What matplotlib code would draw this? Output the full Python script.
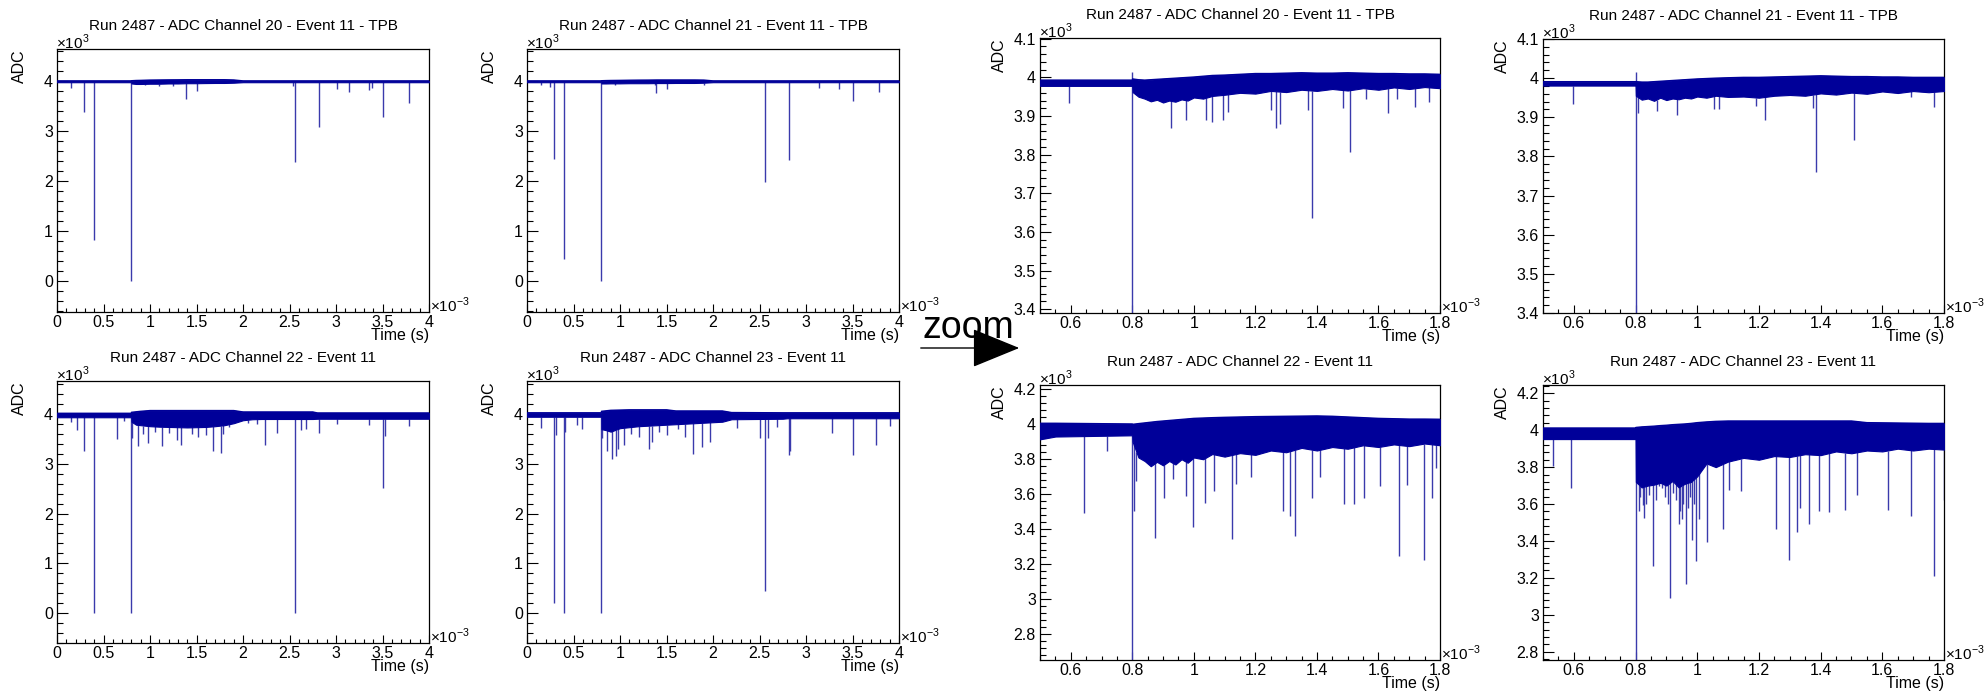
import numpy as np
import matplotlib
matplotlib.use("Agg")
import matplotlib.pyplot as plt
from matplotlib.patches import FancyArrowPatch
from matplotlib.ticker import MultipleLocator, FuncFormatter

plt.rcParams["font.family"] = ["Liberation Sans", "DejaVu Sans"]
plt.rcParams["mathtext.fontset"] = "custom"
plt.rcParams["mathtext.rm"] = "Liberation Sans"

W, H = 1984, 695
LINE = "#000099"
SPIKE = "#3a3aac"

# ---------------------------------------------------------------
# data (time in ms, ADC in counts)
# ---------------------------------------------------------------
TITLES = {
    20: "Run 2487 - ADC Channel 20 - Event 11 - TPB",
    21: "Run 2487 - ADC Channel 21 - Event 11 - TPB",
    22: "Run 2487 - ADC Channel 22 - Event 11",
    23: "Run 2487 - ADC Channel 23 - Event 11",
}

# full window 0-4 ms : envelope of the noise band on a common time grid
FULL_T = [0.0, 0.8, 0.801, 0.85, 0.9, 1.0, 1.1, 1.2, 1.3, 1.4, 1.5, 1.6, 1.7,
          1.8, 1.9, 2.0, 2.1, 2.2, 2.75, 2.8, 4.0]

ch20_full_hi = [4012, 4012, 4015, 4020, 4022, 4028, 4030, 4032, 4033, 4035, 4035,
                4035, 4035, 4035, 4030, 4012, 4012, 4012, 4012, 4012, 4012]
ch20_full_lo = [3985, 3985, 3960, 3950, 3950, 3955, 3955, 3960, 3960, 3965, 3965,
                3968, 3970, 3970, 3975, 3985, 3985, 3985, 3985, 3985, 3985]
ch21_full_hi = [4012, 4012, 4015, 4018, 4020, 4022, 4025, 4027, 4028, 4030, 4030,
                4030, 4030, 4030, 4028, 4012, 4012, 4012, 4012, 4012, 4012]
ch21_full_lo = [3985, 3985, 3960, 3960, 3962, 3962, 3965, 3965, 3965, 3968, 3968,
                3970, 3970, 3970, 3975, 3985, 3985, 3985, 3985, 3985, 3985]
ch22_full_hi = [4020, 4020, 4040, 4050, 4060, 4075, 4075, 4075, 4075, 4075, 4075,
                4075, 4075, 4075, 4075, 4047, 4047, 4047, 4047, 4027, 4027]
ch22_full_lo = [3940, 3940, 3850, 3790, 3780, 3760, 3750, 3745, 3740, 3735, 3740,
                3745, 3760, 3780, 3820, 3880, 3900, 3905, 3905, 3910, 3910]
ch23_full_hi = [4030, 4030, 4060, 4070, 4080, 4085, 4090, 4090, 4090, 4090, 4090,
                4067, 4067, 4067, 4067, 4067, 4067, 4035, 4030, 4030, 4030]
ch23_full_lo = [3950, 3950, 3700, 3680, 3650, 3720, 3740, 3760, 3770, 3780, 3790,
                3800, 3810, 3820, 3830, 3840, 3850, 3900, 3910, 3920, 3920]

# isolated dips (time, lowest ADC)
ch20_full_spk_t = [0.15, 0.29, 0.40, 0.80, 0.95, 1.10, 1.25, 1.39, 1.51, 2.54, 2.56, 2.82,
                   3.01, 3.14, 3.36, 3.39, 3.50, 3.79]
ch20_full_spk_v = [3870, 3380, 820, 0, 3930, 3900, 3910, 3650, 3800, 3900, 2390, 3080,
                   3850, 3780, 3830, 3860, 3280, 3560]
ch21_full_spk_t = [0.15, 0.25, 0.29, 0.40, 0.80, 0.95, 1.38, 1.39, 1.51, 1.9, 2.56, 2.82,
                   3.14, 3.36, 3.50, 3.79]
ch21_full_spk_v = [3930, 3890, 2450, 440, 0, 3930, 3920, 3770, 3850, 3920, 1990, 2430,
                   3870, 3850, 3600, 3780]
ch22_full_spk_t = [0.15, 0.21, 0.29, 0.40, 0.64, 0.72, 0.80, 0.81, 0.87, 0.93, 0.98, 1.05,
                   1.13, 1.20, 1.29, 1.33, 1.45, 1.52, 1.60, 1.68, 1.76, 1.78, 1.85, 2.05,
                   2.15, 2.24, 2.37, 2.56, 2.62, 2.68, 2.82, 3.01, 3.36, 3.50, 3.53, 3.79]
ch22_full_spk_v = [3840, 3680, 3270, 0, 3500, 3870, 0, 3530, 3360, 3600, 3420, 3650,
                   3360, 3620, 3480, 3380, 3600, 3550, 3580, 3270, 3230, 3600, 3750, 3820,
                   3800, 3390, 3620, 0, 3680, 3700, 3620, 3800, 3780, 2510, 3570, 3760]
ch23_full_spk_t = [0.15, 0.29, 0.31, 0.40, 0.41, 0.54, 0.59, 0.80, 0.81, 0.86, 0.91, 0.96,
                   0.98, 1.04, 1.12, 1.20, 1.31, 1.34, 1.42, 1.50, 1.62, 1.70, 1.78, 1.88,
                   1.97, 2.26, 2.51, 2.56, 2.59, 2.69, 2.82, 2.83, 3.28, 3.50, 3.75, 3.90]
ch23_full_spk_v = [3720, 200, 3580, 0, 3640, 3780, 3700, 0, 3520, 3270, 3090, 3150,
                   3300, 3390, 3600, 3550, 3300, 3450, 3650, 3580, 3700, 3550, 3210, 3350,
                   3440, 3720, 3520, 440, 3530, 3750, 3180, 3260, 3620, 3190, 3380, 3760]

# zoomed window 0.5-1.8 ms
ZOOM_T = [0.5, 0.55, 0.8, 0.801, 0.82, 0.84, 0.86, 0.88, 0.9, 0.92, 0.94, 0.96, 0.98,
          1.0, 1.03, 1.06, 1.1, 1.15, 1.2, 1.25, 1.3, 1.35, 1.4, 1.45, 1.5, 1.55, 1.6,
          1.65, 1.7, 1.75, 1.8]

ch20_zoom_hi = [3993, 3993, 3993, 3996, 3994, 3993, 3994, 3995, 3996, 3997, 3998, 3999,
                4000, 4001, 4003, 4005, 4006, 4008, 4010, 4010, 4011, 4012, 4011, 4011,
                4012, 4011, 4010, 4010, 4009, 4009, 4008]
ch20_zoom_lo = [3978, 3978, 3978, 3962, 3950, 3945, 3938, 3942, 3935, 3940, 3937, 3943,
                3940, 3948, 3945, 3952, 3955, 3960, 3958, 3965, 3962, 3968, 3965, 3970,
                3966, 3972, 3968, 3974, 3970, 3975, 3972]
ch21_zoom_hi = [3991, 3991, 3991, 3991, 3990, 3990, 3991, 3992, 3993, 3994, 3995, 3996,
                3997, 3998, 3999, 4000, 4001, 4002, 4002, 4003, 4004, 4005, 4006, 4005,
                4004, 4004, 4003, 4003, 4002, 4002, 4002]
ch21_zoom_lo = [3981, 3981, 3981, 3955, 3945, 3948, 3942, 3950, 3944, 3948, 3946, 3950,
                3948, 3953, 3950, 3955, 3952, 3953, 3950, 3955, 3957, 3955, 3961, 3958,
                3963, 3960, 3966, 3962, 3967, 3964, 3967]
ch22_zoom_hi = [4006, 4006, 4002, 4000, 4004, 4008, 4012, 4016, 4019, 4022, 4025, 4028,
                4031, 4034, 4036, 4038, 4040, 4042, 4044, 4045, 4046, 4047, 4048, 4046,
                4042, 4038, 4034, 4032, 4030, 4030, 4029]
ch22_zoom_lo = [3914, 3930, 3937, 3900, 3810, 3790, 3760, 3785, 3765, 3790, 3770, 3800,
                3780, 3810, 3800, 3830, 3815, 3835, 3825, 3850, 3840, 3865, 3850, 3870,
                3860, 3880, 3870, 3885, 3875, 3890, 3880]
ch23_zoom_hi = [4012, 4012, 4012, 4015, 4018, 4020, 4022, 4025, 4027, 4030, 4032, 4034,
                4037, 4041, 4045, 4048, 4050, 4050, 4050, 4050, 4050, 4050, 4050, 4050,
                4050, 4041, 4040, 4039, 4038, 4037, 4037]
ch23_zoom_lo = [3952, 3952, 3952, 3720, 3690, 3700, 3705, 3715, 3700, 3725, 3690, 3710,
                3720, 3750, 3820, 3800, 3830, 3850, 3840, 3860, 3855, 3870, 3865, 3885,
                3875, 3890, 3885, 3900, 3890, 3900, 3895]

ch20_zoom_spk_t = [0.595, 0.80, 0.80, 0.925, 0.976, 1.04, 1.06, 1.094, 1.11, 1.25, 1.266,
                   1.279, 1.371, 1.384, 1.486, 1.507, 1.56, 1.63, 1.66, 1.72, 1.765]
ch20_zoom_spk_v = [3933, 0, 4015, 3870, 3890, 3890, 3885, 3890, 3910, 3916, 3868,
                   3880, 3916, 3636, 3920, 3807, 3945, 3907, 3945, 3924, 3937]
ch21_zoom_spk_t = [0.597, 0.80, 0.80, 0.809, 0.868, 0.935, 1.053, 1.069, 1.191, 1.219,
                   1.375, 1.384, 1.508, 1.693, 1.768]
ch21_zoom_spk_v = [3935, 0, 4015, 3910, 3915, 3907, 3922, 3920, 3929, 3892,
                   3924, 3760, 3842, 3951, 3927]
ch22_zoom_spk_t = [0.643, 0.718, 0.80, 0.804, 0.813, 0.874, 0.903, 0.933, 0.974, 0.997,
                   1.037, 1.067, 1.124, 1.137, 1.185, 1.289, 1.314, 1.33, 1.384, 1.411,
                   1.489, 1.521, 1.553, 1.604, 1.668, 1.693, 1.749, 1.775, 1.788]
ch22_zoom_spk_v = [3495, 3847, 0, 3504, 3676, 3352, 3580, 3685, 3590, 3410,
                   3550, 3620, 3346, 3657, 3700, 3504, 3476, 3361, 3580, 3700,
                   3542, 3542, 3580, 3647, 3247, 3651, 3224, 3580, 3752]
ch23_zoom_spk_t = [0.533, 0.591, 0.80, 0.803, 0.81, 0.815, 0.823, 0.828, 0.835, 0.845,
                   0.855, 0.865, 0.875, 0.887, 0.895, 0.905, 0.911, 0.92, 0.93, 0.941,
                   0.945, 0.95, 0.955, 0.964, 0.97, 0.975, 0.982, 0.99, 0.996, 1.007,
                   1.031, 1.082, 1.102, 1.141, 1.254, 1.299, 1.324, 1.334, 1.361, 1.395,
                   1.426, 1.479, 1.517, 1.617, 1.692, 1.767, 1.8]
ch23_zoom_spk_v = [3806, 3689, 0, 3720, 3560, 3640, 3597, 3526, 3600, 3650,
                   3263, 3620, 3700, 3689, 3640, 3600, 3090, 3660, 3620, 3494,
                   3560, 3520, 3600, 3167, 3580, 3640, 3405, 3600, 3290, 3517,
                   3393, 3464, 3677, 3668, 3464, 3295, 3446, 3579, 3494, 3561,
                   3558, 3570, 3650, 3570, 3535, 3210, 3623]

# ---------------------------------------------------------------
# panel layout in pixels: left, top, right, bottom
# ---------------------------------------------------------------
PANELS = [
    (20, (57, 49, 429, 312), (FULL_T, ch20_full_lo, ch20_full_hi),
     (ch20_full_spk_t, ch20_full_spk_v), (-615, 4650), (0, 4), False),
    (21, (527, 49, 899, 312), (FULL_T, ch21_full_lo, ch21_full_hi),
     (ch21_full_spk_t, ch21_full_spk_v), (-615, 4650), (0, 4), False),
    (22, (57, 381, 429, 643), (FULL_T, ch22_full_lo, ch22_full_hi),
     (ch22_full_spk_t, ch22_full_spk_v), (-605, 4670), (0, 4), False),
    (23, (527, 381, 899, 643), (FULL_T, ch23_full_lo, ch23_full_hi),
     (ch23_full_spk_t, ch23_full_spk_v), (-605, 4670), (0, 4), False),
    (20, (1040, 38, 1440, 313), (ZOOM_T, ch20_zoom_lo, ch20_zoom_hi),
     (ch20_zoom_spk_t, ch20_zoom_spk_v), (3390, 4102), (0.5, 1.8), True),
    (21, (1543, 39, 1944, 313), (ZOOM_T, ch21_zoom_lo, ch21_zoom_hi),
     (ch21_zoom_spk_t, ch21_zoom_spk_v), (3400, 4100), (0.5, 1.8), True),
    (22, (1040, 385, 1440, 660), (ZOOM_T, ch22_zoom_lo, ch22_zoom_hi),
     (ch22_zoom_spk_t, ch22_zoom_spk_v), (2651, 4225), (0.5, 1.8), True),
    (23, (1543, 385, 1944, 660), (ZOOM_T, ch23_zoom_lo, ch23_zoom_hi),
     (ch23_zoom_spk_t, ch23_zoom_spk_v), (2755, 4245), (0.5, 1.8), True),
]

fig = plt.figure(figsize=(W / 100, H / 100), dpi=100)


def draw_panel(ch, box, band, spikes, ylim, xlim, zoomed):
    l, t, r, b = box
    ax = fig.add_axes([l / W, 1 - b / H, (r - l) / W, (b - t) / H])

    bt, blo, bhi = band
    st, sv = spikes
    base = np.interp(st, bt, blo)
    ax.vlines(st, sv, base, color=SPIKE, lw=1.0, zorder=2)
    ax.fill_between(bt, blo, bhi, color=LINE, lw=0.8, zorder=3)
    ax.plot(bt, bhi, color=LINE, lw=1.0, zorder=3)

    ax.set_xlim(*xlim)
    ax.set_ylim(*ylim)

    if zoomed:
        ax.xaxis.set_major_locator(MultipleLocator(0.2))
        ax.xaxis.set_minor_locator(MultipleLocator(0.05))
        if ylim[1] - ylim[0] < 1000:
            ax.yaxis.set_major_locator(MultipleLocator(100))
            ax.yaxis.set_minor_locator(MultipleLocator(20))
        else:
            ax.yaxis.set_major_locator(MultipleLocator(200))
            ax.yaxis.set_minor_locator(MultipleLocator(40))
    else:
        ax.xaxis.set_major_locator(MultipleLocator(0.5))
        ax.xaxis.set_minor_locator(MultipleLocator(0.1))
        ax.yaxis.set_major_locator(MultipleLocator(1000))
        ax.yaxis.set_minor_locator(MultipleLocator(200))

    ax.xaxis.set_major_formatter(FuncFormatter(lambda v, _: f"{round(v, 3):g}"))
    ax.yaxis.set_major_formatter(FuncFormatter(lambda v, _: f"{round(v / 1000, 3):g}"))

    ax.tick_params(axis="both", which="both", direction="in", top=False, right=False,
                   labelsize=11.5, colors="black", width=0.8)
    ax.tick_params(axis="x", which="major", length=6, pad=2)
    ax.tick_params(axis="x", which="minor", length=3)
    ax.tick_params(axis="y", which="major", length=8, pad=3)
    ax.tick_params(axis="y", which="minor", length=4.5)
    for sp in ax.spines.values():
        sp.set_linewidth(0.9)

    # titles and labels placed ROOT-like
    ax.annotate(TITLES[ch], xy=(0.5, 1), xycoords="axes fraction",
                xytext=(0, 16.5), textcoords="offset points",
                ha="center", va="center", fontsize=11)
    ax.annotate(r"$\times10^{3}$", xy=(0, 1), xycoords="axes fraction",
                xytext=(-1, 5), textcoords="offset points",
                ha="left", va="center", fontsize=11)
    ax.annotate(r"$\times10^{-3}$", xy=(1, 0), xycoords="axes fraction",
                xytext=(1, 5), textcoords="offset points",
                ha="left", va="center", fontsize=11)
    ax.annotate("Time (s)", xy=(1, 0), xycoords="axes fraction",
                xytext=(0, -17), textcoords="offset points",
                ha="right", va="center", fontsize=11.5)
    ax.annotate("ADC", xy=(0, 1), xycoords="axes fraction",
                xytext=(-27 if not zoomed else -29, 0), textcoords="offset points",
                ha="center", va="top", rotation=90, fontsize=11.5)
    return ax


for p in PANELS:
    draw_panel(*p)

# zoom arrow between the two groups
fig.text(968 / W, 1 - 328 / H, "zoom", ha="center", va="center", fontsize=27)
fig.add_artist(FancyArrowPatch(
    (918 / W, 1 - 348 / H), (1022 / W, 1 - 348 / H), transform=fig.transFigure,
    arrowstyle="-|>,head_length=2.2,head_width=0.9", mutation_scale=14,
    color="black", lw=1.0))

fig.savefig("out.png", dpi=100, facecolor="white")
